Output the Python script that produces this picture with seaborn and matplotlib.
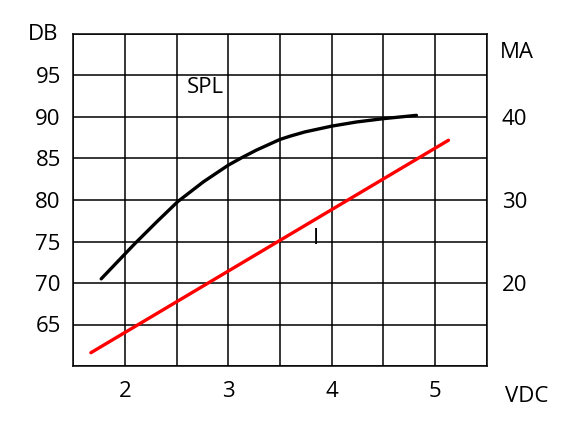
import matplotlib
matplotlib.use("Agg")
import matplotlib.pyplot as plt
import seaborn as sns
import pandas as pd

# SPL curve (left axis, dB)
spl_vdc = [1.77, 2.0, 2.10, 2.31, 2.51, 2.76, 3.0, 3.13, 3.27, 3.5, 3.6, 3.74, 4.0, 4.24, 4.5, 4.82]
spl_db = [70.5, 73.5, 74.8, 77.4, 79.8, 82.2, 84.2, 85.1, 86.0, 87.3, 87.7, 88.2, 88.9, 89.4, 89.8, 90.2]
# Current line (right axis, mA)
i_vdc = [1.67, 5.13]
i_ma = [11.6, 37.2]

x_ticks = [2, 3, 4, 5]
db_ticks = [65, 70, 75, 80, 85, 90, 95]
ma_ticks = [20, 30, 40]

sns.set_style("white")
plt.rcParams['font.family'] = ['Open Sans', 'DejaVu Sans']
plt.rcParams['text.color'] = 'black'
plt.rcParams['xtick.color'] = 'black'
plt.rcParams['ytick.color'] = 'black'
plt.rcParams['lines.solid_joinstyle'] = 'round'

fig = plt.figure(figsize=(5.74, 4.21), dpi=100)
ax = fig.add_axes([73.3/574, 1-366/421, (486.7-73.3)/574, (366-34)/421])

spl = pd.DataFrame({"VDC": spl_vdc, "DB": spl_db})
cur = pd.DataFrame({"VDC": i_vdc, "MA": i_ma})

sns.lineplot(data=spl, x="VDC", y="DB", ax=ax, color="black", lw=2.4, sort=True)
ax.set_xlim(1.5, 5.5)
ax.set_ylim(60, 100)

grid_x = [1.5 + 0.5*k for k in range(9)]
grid_y = [60 + 5*k for k in range(9)]
ax.set_xticks(grid_x)
ax.set_yticks(grid_y)
ax.set_xticklabels([str(int(v)) if v in x_ticks else "" for v in grid_x])
ax.set_yticklabels([str(int(v)) if v in db_ticks else "" for v in grid_y])
ax.grid(True, color="black", lw=1.1)
ax.tick_params(length=0)
ax.tick_params(axis="y", pad=9, labelsize=16)
ax.tick_params(axis="x", pad=11, labelsize=16)
ax.set_xlabel("")
ax.set_ylabel("")
for s in ax.spines.values():
    s.set_color("black")
    s.set_linewidth(1.1)
    s.set_visible(True)

ax2 = ax.twinx()
sns.lineplot(data=cur, x="VDC", y="MA", ax=ax2, color="#ff0000", lw=2.4)
ax2.set_ylim(10, 50)
ax2.set_yticks(ma_ticks)
ax2.set_yticklabels([str(v) for v in ma_ticks])
ax2.tick_params(axis="y", length=0, pad=11, labelsize=16)
ax2.set_ylabel("")
ax2.grid(False)
for s in ax2.spines.values():
    s.set_visible(False)

fs = 16
fig.text(43/574, 1-35/421, "DB", fontsize=fs, ha="center", va="center")
fig.text(517/574, 1-52/421, "MA", fontsize=fs, ha="center", va="center")
fig.text(527/574, 1-396/421, "VDC", fontsize=fs, ha="center", va="center")
ax.text(2.78, 93.6, "SPL", fontsize=fs, ha="center", va="center")
ax.text(3.85, 75.4, "I", fontsize=fs, ha="center", va="center")

fig.savefig("out.png", dpi=100)
